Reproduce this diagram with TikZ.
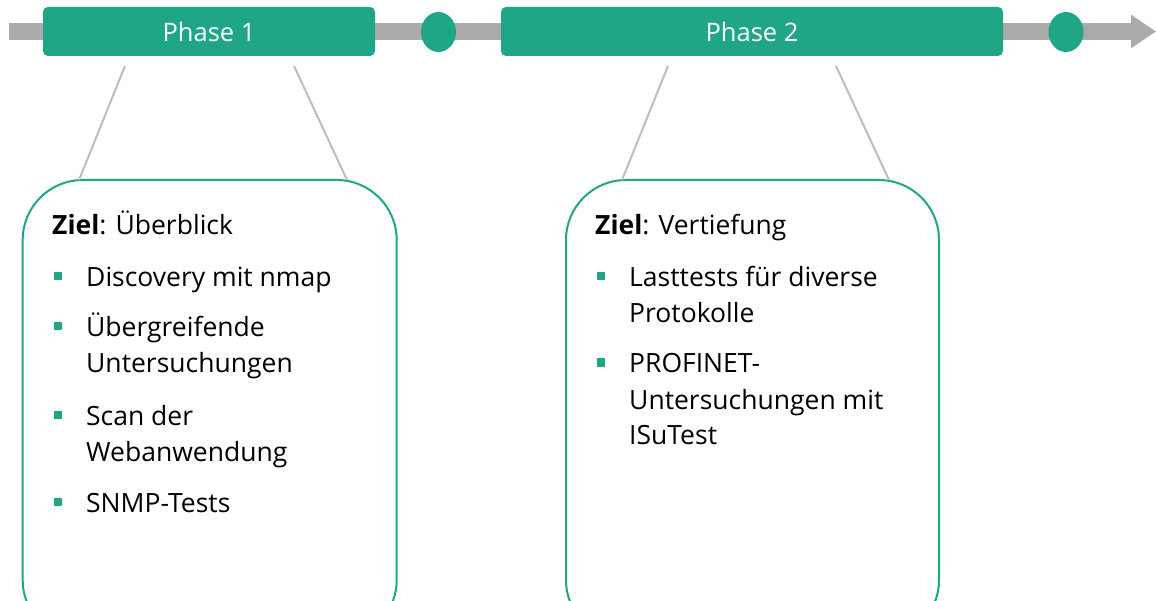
\documentclass[tikz,border=0pt]{standalone}
\usepackage{fontspec}
\setmainfont{Open Sans}
\usetikzlibrary{arrows.meta,shapes.geometric}
\definecolor{teal}{HTML}{1FA686}
\definecolor{bargray}{HTML}{ABABAB}
\definecolor{linegray}{HTML}{BDBDBD}
\newcommand{\itemlines}[1]{\begin{tabular}[t]{@{}l@{}}#1\end{tabular}}
\tikzset{
  phasebox/.style={fill=teal, rounded corners=5pt, minimum height=49pt, text=white,
    font=\fontsize{25.5}{30}\selectfont, inner sep=0pt},
  milestone/.style={ellipse, fill=teal, minimum width=35pt, minimum height=40pt, inner sep=0pt},
  goalbox/.style={draw=teal, line width=2pt, rounded corners=60pt},
  linkline/.style={draw=linegray, line width=2pt},
  bodytext/.style={anchor=base west, inner sep=0pt,
    font=\fontsize{26.5}{36}\selectfont, text=black},
  bulletsq/.style={fill=teal, minimum size=8pt, inner sep=0pt},
}
\begin{document}
\begin{tikzpicture}[x=1pt, y=-1pt]
\useasboundingbox (0,0) rectangle (1156,601);

% timeline bar with arrow head
\coordinate (tstart) at (9,31.5);
\coordinate (tend) at (1156,31.5);
\draw[bargray, line width=17pt, -{Triangle[length=25pt, width=32pt]}] (tstart) -- (tend);

% phases and milestones
\node[phasebox, minimum width=332pt] (p1) at (209,31.5) {Phase 1};
\node[phasebox, minimum width=502pt] (p2) at (752,31.5) {Phase 2};
\node[milestone] (m1) at (438.5,32) {};
\node[milestone] (m2) at (1066,32) {};

% goal boxes
\draw[goalbox] (22.7,180) rectangle (396.7,640);
\draw[goalbox] (566,180) rectangle (939,640);

% connecting lines
\coordinate (p1a) at (125,66);  \coordinate (g1a) at (79,180);
\coordinate (p1b) at (294,66);  \coordinate (g1b) at (347,180);
\coordinate (p2a) at (668,66);  \coordinate (g2a) at (622,180);
\coordinate (p2b) at (836,66);  \coordinate (g2b) at (889,180);
\draw[linkline] (p1a) -- (g1a);
\draw[linkline] (p1b) -- (g1b);
\draw[linkline] (p2a) -- (g2a);
\draw[linkline] (p2b) -- (g2b);

% phase 1 contents
\node[bodytext] (z1) at (52,235) {\textbf{Ziel}: Überblick};
\node[bodytext] (a1) at (86,287) {Discovery mit nmap};
\node[bodytext] (a2) at (86,337) {\itemlines{Übergreifende\\Untersuchungen}};
\node[bodytext] (a3) at (86,425) {\itemlines{Scan der\\Webanwendung}};
\node[bodytext] (a4) at (86,512) {SNMP-Tests};
\foreach \n in {a1,a2,a3,a4}
  \node[bulletsq] at ([xshift=-28pt, yshift=10.5pt]\n.base west) {};

% phase 2 contents
\node[bodytext] (z2) at (595,235) {\textbf{Ziel}: Vertiefung};
\node[bodytext] (c1) at (629,287) {\itemlines{Lasttests für diverse\\Protokolle}};
\node[bodytext] (c2) at (629,373) {\itemlines{PROFINET-\\Untersuchungen mit\\ISuTest}};
\foreach \n in {c1,c2}
  \node[bulletsq] at ([xshift=-28pt, yshift=10.5pt]\n.base west) {};
\end{tikzpicture}
\end{document}
